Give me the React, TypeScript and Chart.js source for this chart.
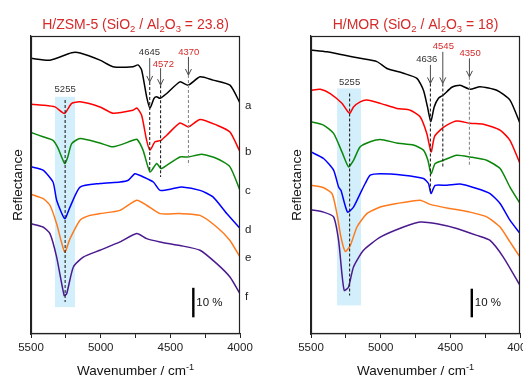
import React, { useEffect, useRef } from "react";
import { Chart, registerables } from "chart.js";

Chart.register(...registerables);

const FONT = "'Liberation Sans', Arial, Helvetica, sans-serif";

// ---------------- shared ----------------
const wavenumberTicks = [5500, 5000, 4500, 4000];
const sampleLetters = ["a", "b", "c", "d", "e", "f"];
const seriesColors = ["#000000", "#ff0000", "#0b870b", "#0000ff", "#ff7a1c", "#4b1a8e"];

// ---------------- H/ZSM-5 (SiO2/Al2O3 = 23.8) ----------------
const zsmWnA = [5500, 5364, 5208, 5148, 5005, 4912, 4768, 4732, 4706, 4670, 4646, 4617, 4598, 4574, 4526, 4431, 4371, 4287, 4194, 4072, 4000];
const zsmRA = [92.5, 91.9, 94.4, 94.3, 91.9, 89.7, 89.7, 90.3, 88.6, 79.6, 75.8, 79.1, 79.6, 79.1, 80.7, 84.6, 83.5, 86.3, 85.2, 83.5, 77.5];

const zsmWnB = [5500, 5414, 5328, 5260, 5208, 5148, 5005, 4912, 4768, 4739, 4706, 4670, 4646, 4610, 4567, 4526, 4431, 4371, 4287, 4167, 4072, 4000];
const zsmRB = [77.1, 76.8, 76.2, 74.0, 77.4, 77.9, 76.2, 74.1, 75.1, 75.8, 73.4, 65.0, 61.7, 64.5, 65.0, 66.7, 70.8, 69.5, 72.0, 70.1, 67.8, 61.1];

const zsmWnC = [5500, 5414, 5342, 5306, 5258, 5236, 5208, 5148, 5005, 4912, 4768, 4739, 4696, 4646, 4598, 4567, 4526, 4431, 4371, 4275, 4167, 4072, 4000];
const zsmRC = [67.6, 66.2, 65.0, 62.4, 57.2, 59.4, 63.9, 65.6, 64.1, 62.8, 65.0, 65.3, 61.7, 54.4, 57.2, 55.5, 56.6, 59.4, 59.4, 60.3, 58.9, 56.1, 48.2];

const zsmWnD = [5500, 5414, 5342, 5316, 5258, 5220, 5148, 5005, 4861, 4802, 4754, 4694, 4622, 4574, 4479, 4418, 4287, 4194, 4095, 4000];
const zsmRD = [56.1, 55.0, 51.0, 44.9, 38.7, 42.6, 49.3, 50.5, 51.0, 51.6, 53.8, 52.7, 51.0, 48.2, 48.8, 49.3, 48.2, 46.0, 40.4, 35.4];

const zsmWnE = [5500, 5412, 5364, 5316, 5258, 5220, 5148, 5077, 5005, 4861, 4741, 4670, 4574, 4431, 4287, 4167, 4072, 4000];
const zsmRE = [46.9, 45.4, 43.2, 37.0, 27.5, 32.0, 38.2, 39.8, 40.4, 41.5, 44.9, 43.2, 40.4, 40.4, 39.8, 35.9, 31.4, 25.8];

const zsmWnF = [5500, 5414, 5364, 5316, 5262, 5244, 5196, 5125, 5005, 4861, 4741, 4670, 4574, 4431, 4287, 4167, 4072, 4000];
const zsmRF = [37.0, 35.9, 33.7, 25.8, 12.9, 13.5, 22.5, 25.8, 28.1, 30.9, 33.7, 32.0, 30.9, 29.7, 28.1, 23.6, 19.1, 13.5];

const zsmPeakLabels = ["4645", "4572", "4370"];
const zsmLetterLevels = [76.6, 61.0, 47.9, 35.1, 25.5, 12.6];

// ---------------- H/MOR (SiO2/Al2O3 = 18) ----------------
const morWnA = [5500, 5385, 5266, 5147, 5027, 4955, 4836, 4740, 4693, 4664, 4640, 4616, 4585, 4550, 4489, 4430, 4358, 4287, 4167, 4072, 4000];
const morRA = [95.3, 94.7, 93.6, 92.5, 91.4, 89.1, 87.5, 85.8, 81.8, 76.2, 71.2, 76.2, 79.1, 80.2, 82.8, 83.5, 82.1, 83.0, 81.8, 78.5, 70.7];

const morWnB = [5500, 5433, 5362, 5278, 5223, 5195, 5147, 5099, 5003, 4884, 4788, 4717, 4669, 4638, 4614, 4573, 4525, 4454, 4358, 4263, 4143, 4072, 4000];
const morRB = [81.8, 82.1, 80.7, 77.4, 74.0, 76.2, 77.9, 78.5, 77.4, 75.7, 75.1, 72.9, 67.3, 61.1, 66.2, 68.4, 70.1, 71.5, 70.7, 70.4, 68.4, 65.0, 57.2];

const morWnC = [5500, 5410, 5338, 5278, 5231, 5195, 5147, 5075, 5003, 4884, 4765, 4693, 4661, 4638, 4609, 4550, 4454, 4358, 4239, 4143, 4072, 4000];
const morRC = [71.2, 70.1, 67.3, 61.1, 56.1, 58.3, 62.8, 64.5, 65.3, 64.1, 63.4, 61.7, 58.3, 53.8, 57.2, 58.3, 60.0, 59.4, 58.3, 55.5, 49.3, 43.8];

const morWnD = [5500, 5410, 5338, 5302, 5285, 5238, 5195, 5147, 5111, 5075, 5003, 4836, 4693, 4657, 4638, 4609, 4525, 4430, 4310, 4215, 4143, 4072, 4000];
const morRD = [61.1, 58.9, 55.0, 49.3, 48.2, 40.9, 42.6, 47.1, 50.5, 53.3, 53.8, 53.3, 52.2, 50.5, 47.1, 49.9, 49.9, 50.3, 48.8, 47.1, 43.8, 38.2, 33.7];

const morWnE = [5500, 5410, 5349, 5314, 5285, 5254, 5218, 5170, 5099, 5003, 4884, 4717, 4645, 4502, 4358, 4239, 4143, 4072, 4000];
const morRE = [49.9, 49.1, 47.1, 40.4, 32.5, 27.7, 29.7, 35.9, 40.4, 42.6, 43.8, 44.9, 43.5, 42.1, 40.9, 39.3, 35.9, 30.9, 25.8];

const morWnF = [5500, 5410, 5338, 5302, 5278, 5261, 5231, 5195, 5123, 5003, 4836, 4717, 4597, 4454, 4310, 4215, 4120, 4000];
const morRF = [41.7, 40.9, 39.3, 31.4, 20.2, 14.6, 15.7, 22.5, 28.1, 32.5, 35.9, 37.6, 37.0, 35.4, 33.1, 31.4, 25.8, 16.3];

const morPeakLabels = ["4636", "4545", "4350"];

// ---------------- panel configs (positions/styles) ----------------
type Seg = [string, number];
type Peak = {
  text: string; color: string; labelWn: number; labelR: number;
  arrowWn: number; arrowTop: number; arrowBottom: number; lineBottom: number; lineColor: string;
};
type Panel = {
  title: Seg[];
  series: { wn: number[]; r: number[] }[];
  shade: [number, number, number, number];
  band: { wn: number; r1: number; r2: number; labelR: number };
  peaks: Peak[];
  bar: { wn: number; r1: number; r2: number };
  letters: number[] | null;
};

const RED = "#d62a2a";
const DARK = "#333333";

const zsmPanel: Panel = {
  title: [["H/ZSM-5 (SiO", 0], ["2", 1], [" / Al", 0], ["2", 1], ["O", 0], ["3", 1], [" = 23.8)", 0]],
  series: [
    { wn: zsmWnA, r: zsmRA }, { wn: zsmWnB, r: zsmRB }, { wn: zsmWnC, r: zsmRC },
    { wn: zsmWnD, r: zsmRD }, { wn: zsmWnE, r: zsmRE }, { wn: zsmWnF, r: zsmRF },
  ],
  shade: [5328, 5184, 9.0, 79.6],
  band: { wn: 5255, r1: 10.7, r2: 78.5, labelR: 82.1 },
  peaks: [
    { text: zsmPeakLabels[0], color: DARK, labelWn: 4650, labelR: 94.5, arrowWn: 4648, arrowTop: 92.6, arrowBottom: 84.6, lineBottom: 55.0, lineColor: "#222" },
    { text: zsmPeakLabels[1], color: RED, labelWn: 4550, labelR: 90.6, arrowWn: 4570, arrowTop: 89.2, arrowBottom: 83.5, lineBottom: 52.7, lineColor: "#222" },
    { text: zsmPeakLabels[2], color: RED, labelWn: 4368, labelR: 94.5, arrowWn: 4370, arrowTop: 93.0, arrowBottom: 86.9, lineBottom: 56.6, lineColor: "#8a8a8a" },
  ],
  bar: { wn: 4335, r1: 5.6, r2: 15.5 },
  letters: zsmLetterLevels,
};

const morPanel: Panel = {
  title: [["H/MOR (SiO", 0], ["2", 1], [" / Al", 0], ["2", 1], ["O", 0], ["3", 1], [" = 18)", 0]],
  series: [
    { wn: morWnA, r: morRA }, { wn: morWnB, r: morRB }, { wn: morWnC, r: morRC },
    { wn: morWnD, r: morRD }, { wn: morWnE, r: morRE }, { wn: morWnF, r: morRF },
  ],
  shade: [5313, 5141, 9.6, 82.4],
  band: { wn: 5223, r1: 12.9, r2: 80.7, labelR: 84.3 },
  peaks: [
    { text: morPeakLabels[0], color: DARK, labelWn: 4669, labelR: 92.2, arrowWn: 4643, arrowTop: 90.3, arrowBottom: 84.1, lineBottom: 47.7, lineColor: "#222" },
    { text: morPeakLabels[1], color: RED, labelWn: 4550, labelR: 96.4, arrowWn: 4554, arrowTop: 94.7, arrowBottom: 84.1, lineBottom: 55.5, lineColor: "#222" },
    { text: morPeakLabels[2], color: RED, labelWn: 4358, labelR: 94.2, arrowWn: 4363, arrowTop: 92.5, arrowBottom: 86.3, lineBottom: 56.6, lineColor: "#8a8a8a" },
  ],
  bar: { wn: 4346, r1: 5.6, r2: 15.2 },
  letters: null,
};

const H = 376;

function drawRich(ctx: CanvasRenderingContext2D, segs: Seg[], cx: number, baseline: number, size: number, color: string) {
  const fontFor = (m: number) => `${m ? size * 0.68 : size}px ${FONT}`;
  let total = 0;
  for (const [t, m] of segs) { ctx.font = fontFor(m); total += ctx.measureText(t).width; }
  let x = cx - total / 2;
  ctx.fillStyle = color;
  ctx.textAlign = "left";
  ctx.textBaseline = "alphabetic";
  for (const [t, m] of segs) {
    ctx.font = fontFor(m);
    const dy = m === 1 ? size * 0.22 : m === 2 ? -size * 0.38 : 0;
    ctx.fillText(t, x, baseline + dy);
    x += ctx.measureText(t).width;
  }
}

function makeDecor(p: Panel) {
  return {
    id: "decor",
    beforeDatasetsDraw(chart: any) {
      const { ctx, scales: { x, y } } = chart;
      ctx.save();
      ctx.fillStyle = "#d3effb";
      const x1 = x.getPixelForValue(p.shade[0]);
      const x2 = x.getPixelForValue(p.shade[1]);
      const yTop = y.getPixelForValue(p.shade[3]);
      const yBot = y.getPixelForValue(p.shade[2]);
      ctx.fillRect(Math.min(x1, x2), yTop, Math.abs(x2 - x1), yBot - yTop);
      ctx.restore();
    },
    afterDatasetsDraw(chart: any) {
      const { ctx, scales: { x, y }, chartArea } = chart;
      ctx.save();
      // band dashed line
      ctx.lineWidth = 1.1;
      ctx.setLineDash([3, 2]);
      ctx.strokeStyle = "#222";
      const bx = x.getPixelForValue(p.band.wn);
      ctx.beginPath();
      ctx.moveTo(bx, y.getPixelForValue(p.band.r2));
      ctx.lineTo(bx, y.getPixelForValue(p.band.r1));
      ctx.stroke();
      // peak dashed lines
      for (const pk of p.peaks) {
        const px = x.getPixelForValue(pk.arrowWn);
        ctx.strokeStyle = pk.lineColor;
        ctx.beginPath();
        ctx.moveTo(px, y.getPixelForValue(pk.arrowBottom));
        ctx.lineTo(px, y.getPixelForValue(pk.lineBottom));
        ctx.stroke();
      }
      ctx.setLineDash([]);
      // arrows
      for (const pk of p.peaks) {
        const px = x.getPixelForValue(pk.arrowWn);
        const yt = y.getPixelForValue(pk.arrowTop);
        const yb = y.getPixelForValue(pk.arrowBottom);
        ctx.strokeStyle = "#4a4a4a";
        ctx.lineWidth = 1;
        ctx.beginPath();
        ctx.moveTo(px, yt);
        ctx.lineTo(px, yb);
        ctx.moveTo(px - 3, yb - 6);
        ctx.lineTo(px, yb);
        ctx.lineTo(px + 3, yb - 6);
        ctx.stroke();
      }
      // labels
      ctx.font = `9.5px ${FONT}`;
      ctx.textAlign = "center";
      ctx.textBaseline = "middle";
      ctx.fillStyle = DARK;
      ctx.fillText("5255", x.getPixelForValue(p.band.wn), y.getPixelForValue(p.band.labelR));
      for (const pk of p.peaks) {
        ctx.fillStyle = pk.color;
        ctx.fillText(pk.text, x.getPixelForValue(pk.labelWn), y.getPixelForValue(pk.labelR));
      }
      // scale bar
      const sx = x.getPixelForValue(p.bar.wn);
      ctx.strokeStyle = "#000";
      ctx.lineWidth = 2.4;
      ctx.beginPath();
      ctx.moveTo(sx, y.getPixelForValue(p.bar.r1));
      ctx.lineTo(sx, y.getPixelForValue(p.bar.r2));
      ctx.stroke();
      ctx.fillStyle = "#111";
      ctx.font = `11.5px ${FONT}`;
      ctx.textAlign = "left";
      ctx.fillText("10 %", sx + 3, y.getPixelForValue((p.bar.r1 + p.bar.r2) / 2));
      // letters
      if (p.letters) {
        ctx.font = `11.5px ${FONT}`;
        ctx.fillStyle = "#222";
        p.letters.forEach((lv, i) => {
          ctx.fillText(sampleLetters[i], chartArea.right + 5, y.getPixelForValue(lv));
        });
      }
      ctx.restore();
    },
    afterDraw(chart: any) {
      const { ctx, chartArea } = chart;
      ctx.save();
      ctx.strokeStyle = "#222";
      ctx.lineWidth = 1.2;
      const l = Math.round(chartArea.left) + 0.5;
      const t = Math.round(chartArea.top) + 0.5;
      const r = Math.round(chartArea.right) - 0.5;
      const b = Math.round(chartArea.bottom) - 0.5;
      ctx.strokeRect(l, t, r - l, b - t);
      const cx = (chartArea.left + chartArea.right) / 2;
      drawRich(ctx, p.title, cx, 28.5, 14, RED);
      drawRich(ctx, [["Wavenumber / cm", 0], ["-1", 2]], cx, 375, 13.5, "#111");
      ctx.restore();
    },
  };
}

function ChartPanel(props: { panel: Panel; left: number; width: number; areaLeft: number; areaRight: number; titlePad: number }) {
  const { panel, left, width, areaLeft, areaRight, titlePad } = props;
  const ref = useRef<HTMLCanvasElement>(null);
  useEffect(() => {
    const canvas = ref.current;
    if (!canvas) return;
    const chart = new Chart(canvas, {
      type: "line",
      data: {
        datasets: panel.series.map((s, i) => ({
          label: sampleLetters[i],
          data: s.wn.map((w, j) => ({ x: w, y: s.r[j] })),
          borderColor: seriesColors[i],
          backgroundColor: seriesColors[i],
          borderWidth: 1.5,
          pointRadius: 0,
          tension: 0.2,
          fill: false,
        })),
      },
      options: {
        animation: false,
        responsive: false,
        maintainAspectRatio: false,
        events: [],
        layout: { padding: { top: 36, left: 0, right: width - areaRight, bottom: 0 } },
        plugins: { legend: { display: false }, tooltip: { enabled: false }, title: { display: false } },
        scales: {
          x: {
            type: "linear",
            reverse: true,
            min: 4000,
            max: 5500,
            ticks: {
              stepSize: 250,
              autoSkip: false,
              maxRotation: 0,
              padding: 3,
              color: "#222",
              font: { size: 11.5, family: FONT },
              callback: (v: any) => (wavenumberTicks.includes(Number(v)) ? String(v) : ""),
            },
            grid: { drawOnChartArea: false, tickLength: 4, color: "#222" },
            border: { color: "#222", width: 1.2 },
            afterFit: (s: any) => {
              s.height = H - 334;
              s.paddingLeft = 0;
              s.paddingRight = 0;
            },
          },
          y: {
            type: "linear",
            min: 0,
            max: 100,
            ticks: { display: false },
            grid: { display: false },
            border: { color: "#222", width: 1.2 },
            title: {
              display: true,
              text: "Reflectance",
              color: "#111",
              font: { size: 13.5, family: FONT },
              padding: { top: titlePad, bottom: 0 },
            },
            afterFit: (s: any) => {
              s.width = areaLeft;
            },
          },
        },
      } as any,
      plugins: [makeDecor(panel)],
    });
    return () => chart.destroy();
  }, []);
  return (
    <canvas
      ref={ref}
      width={width}
      height={H}
      style={{ position: "absolute", left, top: 0, width, height: H, display: "block" }}
    />
  );
}

export default function App() {
  return (
    <div style={{ position: "absolute", left: 0, top: 0, width: 523, height: H, background: "#fff", overflow: "hidden" }}>
      <ChartPanel panel={zsmPanel} left={0} width={262} areaLeft={31} areaRight={240} titlePad={10} />
      <ChartPanel panel={morPanel} left={262} width={261} areaLeft={49} areaRight={258} titlePad={27} />
    </div>
  );
}
